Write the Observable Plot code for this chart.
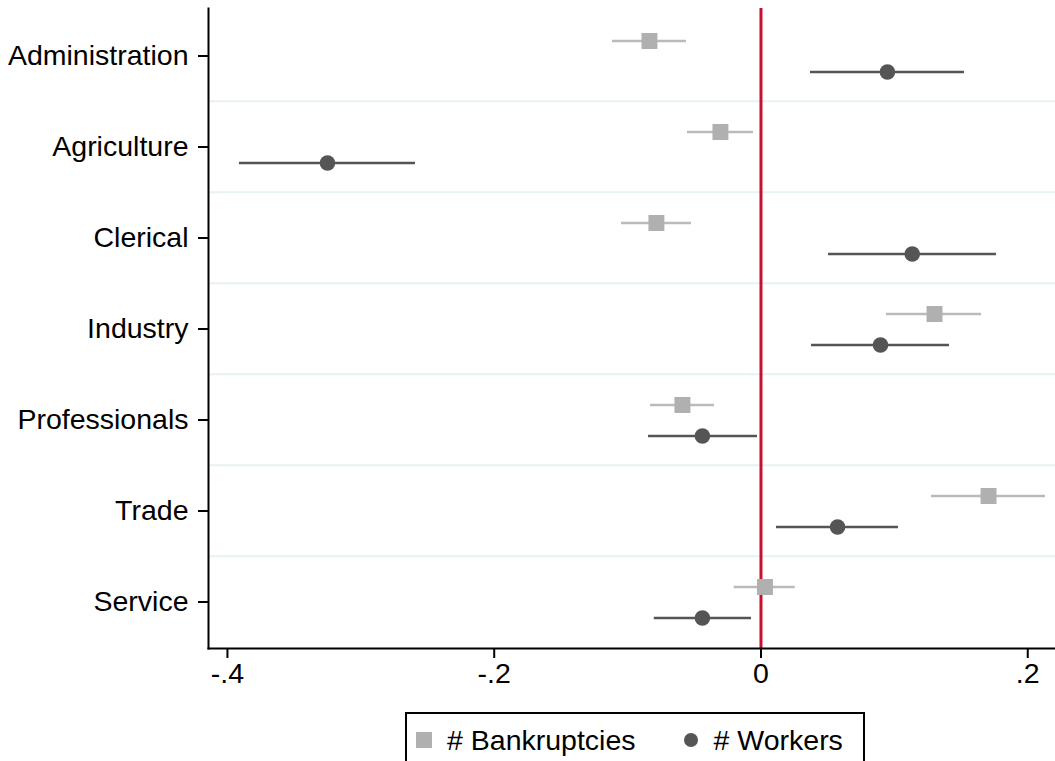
<!DOCTYPE html>
<html>
<head>
<meta charset="utf-8">
<script src="https://cdn.jsdelivr.net/npm/d3@7"></script>
<script src="https://cdn.jsdelivr.net/npm/@observablehq/plot@0.6"></script>
<style>
  body { margin: 0; background: #fff; font-family: "Liberation Sans", Arial, sans-serif; overflow: hidden; }
  #chart svg { display: block; }
  .legend {
    box-sizing: border-box;
    margin-left: 405px;
    margin-top: 12px;
    width: 460px;
    height: 90px;
    border: 2px solid #000;
    padding: 10px 0 0 9px;
    font-size: 28.5px;
    color: #000;
  }
  .legend .row { display: flex; align-items: center; height: 32px; line-height: 32px; white-space: nowrap; }
  .legend .sq { width: 16px; height: 16px; background: #b0b0b0; margin-right: 15px; flex: none; }
  .legend .ci { width: 14px; height: 14px; border-radius: 50%; background: #555555; margin-left: 48px; margin-right: 16px; flex: none; }
</style>
</head>
<body>
<div id="chart"></div>
<div class="legend" id="legend"></div>
<script>
// Occupation categories, top to bottom
const categories = ["Administration", "Agriculture", "Clerical", "Industry", "Professionals", "Trade", "Service"];

// Coefficient estimates with 95% confidence bounds
const bankEst = [-0.0836, -0.0304, -0.0784, 0.1301, -0.0589, 0.1706, 0.0030];
const bankLo  = [-0.1113, -0.0551, -0.1046, 0.0941, -0.0828, 0.1278, -0.0201];
const bankHi  = [-0.0559, -0.0056, -0.0521, 0.1653, -0.0349, 0.2133, 0.0257];

const workEst = [0.0948, -0.3250, 0.1134, 0.0896, -0.0439, 0.0574, -0.0439];
const workLo  = [0.0371, -0.3910, 0.0506, 0.0379, -0.0843, 0.0116, -0.0800];
const workHi  = [0.1526, -0.2590, 0.1766, 0.1413, -0.0026, 0.1031, -0.0071];

const seriesNames = ["# Bankruptcies", "# Workers"];
const xTicks = [-0.4, -0.2, 0, 0.2];
const xTickLabels = ["-.4", "-.2", "0", ".2"];

const bankRows = categories.map((c, i) => ({cat: c, est: bankEst[i], lo: bankLo[i], hi: bankHi[i]}));
const workRows = categories.map((c, i) => ({cat: c, est: workEst[i], lo: workLo[i], hi: workHi[i]}));

const W = 1055, H = 700, mTop = 8, mBottom = 52;
const step = (H - mTop - mBottom) / categories.length;

const colBank = "#b0b0b0", colBankCI = "#bababa";
const colWork = "#555555";

const chart = Plot.plot({
  width: W,
  height: H,
  marginLeft: 208,
  marginRight: 0,
  marginTop: mTop,
  marginBottom: mBottom,
  style: {fontFamily: "'Liberation Sans', Arial, sans-serif", fontSize: "28.5px", color: "#000", background: "#fff"},
  x: {domain: [-0.4142, 0.2208]},
  y: {type: "band", domain: categories, padding: 0},
  marks: [
    // separators between occupation bands
    Plot.ruleY(categories.slice(1), {y: d => d, dy: -step / 2, stroke: "#e8f1f3", strokeWidth: 2}),
    // reference line at zero
    Plot.ruleX([0], {stroke: "#c8102e", strokeWidth: 3}),
    // confidence intervals
    Plot.ruleY(bankRows, {y: "cat", x1: "lo", x2: "hi", dy: -15, stroke: colBankCI, strokeWidth: 2.5}),
    Plot.ruleY(workRows, {y: "cat", x1: "lo", x2: "hi", dy: 16, stroke: colWork, strokeWidth: 2.5}),
    // point estimates
    Plot.dot(bankRows, {x: "est", y: "cat", dy: -15, symbol: "square", r: 9, fill: colBank, stroke: "none"}),
    Plot.dot(workRows, {x: "est", y: "cat", dy: 16, symbol: "circle", r: 7.8, fill: colWork, stroke: "none"}),
    // axis lines
    Plot.frame({anchor: "left", stroke: "#000", strokeWidth: 2}),
    Plot.frame({anchor: "bottom", stroke: "#000", strokeWidth: 2}),
    Plot.axisX({ticks: xTicks, tickFormat: d => xTickLabels[xTicks.indexOf(d)], tickSize: 10, tickPadding: 4,
                fontSize: 28.5, strokeWidth: 2, label: null}),
    Plot.axisY({tickSize: 10, tickPadding: 10, fontSize: 28.5, strokeWidth: 2, label: null})
  ]
});
document.getElementById("chart").appendChild(chart);

// legend below the plot
const legend = document.getElementById("legend");
const row = document.createElement("div");
row.className = "row";
row.innerHTML = `<span class="sq"></span><span>${seriesNames[0]}</span><span class="ci"></span><span>${seriesNames[1]}</span>`;
legend.appendChild(row);
</script>
</body>
</html>
